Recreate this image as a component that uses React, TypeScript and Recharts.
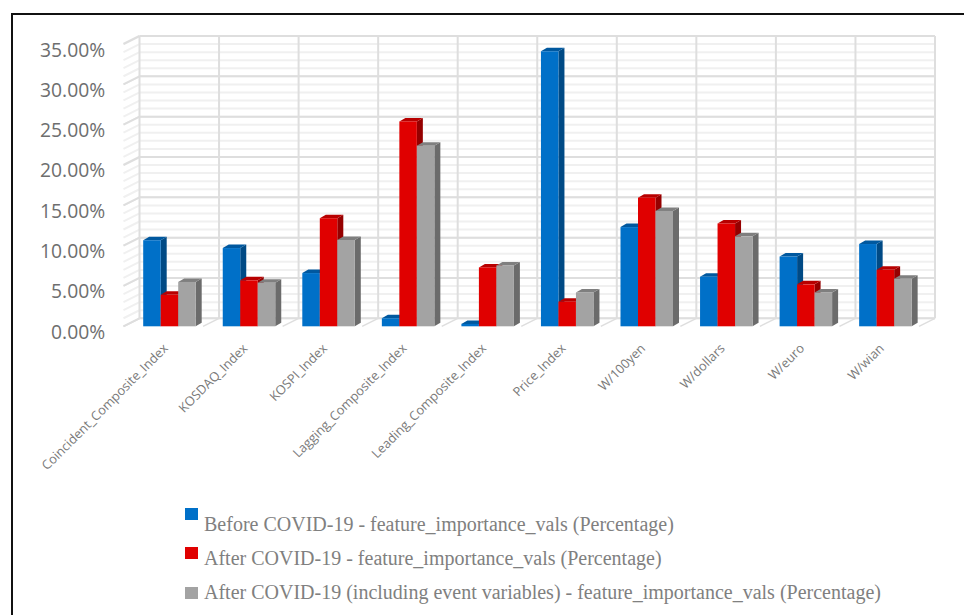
import { BarChart, Bar, XAxis, YAxis, Legend, usePlotArea } from 'recharts'

const categories = [
  'Coincident_Composite_Index',
  'KOSDAQ_Index',
  'KOSPI_Index',
  'Lagging_Composite_Index',
  'Leading_Composite_Index',
  'Price_Index',
  'W/100yen',
  'W/dollars',
  'W/euro',
  'W/wian',
]

const beforeCovid = [10.67, 9.7, 6.6, 1.0, 0.3, 34.1, 12.3, 6.15, 8.65, 10.2]
const afterCovid = [3.9, 5.7, 13.4, 25.4, 7.3, 3.05, 15.95, 12.75, 5.2, 7.0]
const afterCovidEvents = [5.5, 5.4, 10.7, 22.4, 7.55, 4.2, 14.3, 11.15, 4.2, 5.9]

const yTicks = [0, 5, 10, 15, 20, 25, 30, 35]
const minorTicks = Array.from({ length: 36 }, (_, i) => i)

const seriesNames = [
  'Before COVID-19 - feature_importance_vals (Percentage)',
  'After COVID-19 - feature_importance_vals (Percentage)',
  'After COVID-19 (including event variables) - feature_importance_vals (Percentage)',
]

const data = categories.map((name, i) => ({
  name,
  before: beforeCovid[i],
  after: afterCovid[i],
  events: afterCovidEvents[i],
}))

const BLUE = '#0070c8'
const RED = '#e00000'
const GRAY = '#a3a3a3'

// fake 3D shading: [top face, side face]
const shades: Record<string, [string, string]> = {
  [BLUE]: ['#00589f', '#004a85'],
  [RED]: ['#b80000', '#950000'],
  [GRAY]: ['#7f7f7f', '#6b6b6b'],
}

const DEPTH_X = 6
const DEPTH_Y = 3.5
const WALL_DX = 16
const WALL_DY = 8
const WALL_SHIFT = 10.3

function Bar3D({ x, y, width, height, fill }: any) {
  const [top, side] = shades[fill]
  const right = x + width
  const bottom = y + height
  return (
    <g>
      <polygon
        points={`${right},${y} ${right + DEPTH_X},${y - DEPTH_Y} ${right + DEPTH_X},${bottom - DEPTH_Y} ${right},${bottom}`}
        fill={side}
      />
      <polygon
        points={`${x},${y} ${x + DEPTH_X},${y - DEPTH_Y} ${right + DEPTH_X},${y - DEPTH_Y} ${right},${y}`}
        fill={top}
      />
      <rect x={x} y={y} width={width} height={height} fill={fill} />
    </g>
  )
}

// back wall, side wall and floor behind the bars
function Walls() {
  const plot = usePlotArea()
  if (!plot) return null
  const left = plot.x + WALL_SHIFT
  const right = left + plot.width
  const band = plot.width / categories.length
  const yOf = (v: number) => plot.y + plot.height * (1 - v / 35) - WALL_DY
  const line = '#dedede'
  return (
    <g>
      {minorTicks.map((t) => (
        <g key={t} stroke="#f0f0f0" strokeWidth={2}>
          <line x1={left} x2={right} y1={yOf(t)} y2={yOf(t)} />
          <line x1={left} x2={left - WALL_DX} y1={yOf(t)} y2={yOf(t) + WALL_DY} />
        </g>
      ))}
      {yTicks.map((t) => (
        <g key={t} stroke={line} strokeWidth={2}>
          <line x1={left} x2={right} y1={yOf(t)} y2={yOf(t)} />
          <line x1={left} x2={left - WALL_DX} y1={yOf(t)} y2={yOf(t) + WALL_DY} />
        </g>
      ))}
      {[...categories, 'end'].map((c, i) => (
        <g key={c} stroke={line}>
          <line x1={left + band * i} x2={left + band * i} y1={yOf(35)} y2={yOf(0)} strokeWidth={2} />
          <line
            x1={left + band * i}
            x2={left + band * i - WALL_DX}
            y1={yOf(0)}
            y2={yOf(0) + WALL_DY}
            strokeWidth={1.5}
          />
        </g>
      ))}
    </g>
  )
}

function YTick({ x, y, payload }: any) {
  return (
    <text x={x - 16} y={y} dy={12.5} textAnchor="end" fontFamily="Open Sans" fontSize={19.3} fill="#6e6e6e">
      {payload.value.toFixed(2)}%
    </text>
  )
}

function XTick({ x, y, payload }: any) {
  const px = x - 3
  const py = y - 2
  return (
    <text
      x={px}
      y={py}
      dy={4}
      textAnchor="end"
      transform={`rotate(-45 ${px} ${py})`}
      fontFamily="Open Sans"
      fontSize={12.8}
      fill="#7a7a7a"
    >
      {payload.value}
    </text>
  )
}

const legendRows = [
  { swatch: 508, text: 512 },
  { swatch: 547, text: 546 },
  { swatch: 587, text: 580 },
]

function LegendRows({ payload }: any) {
  return (
    <div style={{ position: 'relative' }}>
      {payload.map((entry: any, i: number) => (
        <div key={entry.value}>
          <div
            style={{
              position: 'absolute',
              left: 185,
              top: legendRows[i].swatch,
              width: 13,
              height: 12,
              background: entry.color,
            }}
          />
          <div
            style={{
              position: 'absolute',
              left: 204,
              top: legendRows[i].text,
              whiteSpace: 'nowrap',
              fontFamily: 'Liberation Serif',
              fontSize: 20,
              lineHeight: '24px',
              color: '#808080',
            }}
          >
            {entry.value}
          </div>
        </div>
      ))}
    </div>
  )
}

export default function App() {
  return (
    <div style={{ position: 'absolute', left: 0, top: 0, width: 964, height: 615, overflow: 'hidden', background: '#fff' }}>
      <div
        style={{
          position: 'absolute',
          left: 11,
          top: 13,
          width: 960,
          height: 610,
          borderLeft: '2px solid #111',
          borderTop: '2px solid #111',
        }}
      />
      <BarChart
        width={964}
        height={615}
        data={data}
        margin={{ top: 44, left: 24.2, right: 39.3, bottom: 228.7 }}
        barSize={17.5}
        barGap={0}
      >
        <Walls />
        <XAxis
          dataKey="name"
          interval={0}
          axisLine={false}
          tickLine={false}
          height={60}
          tick={<XTick />}
          tickMargin={16}
        />
        <YAxis
          width={105}
          domain={[0, 35]}
          ticks={yTicks}
          axisLine={false}
          tickLine={false}
          tick={<YTick />}
        />
        <Legend
          layout="horizontal"
          verticalAlign="middle"
          itemSorter={null}
          content={<LegendRows />}
          wrapperStyle={{ left: 0, top: 0, width: 964, height: 0 }}
        />
        <Bar dataKey="before" name={seriesNames[0]} fill={BLUE} shape={<Bar3D />} isAnimationActive={false} />
        <Bar dataKey="after" name={seriesNames[1]} fill={RED} shape={<Bar3D />} isAnimationActive={false} />
        <Bar dataKey="events" name={seriesNames[2]} fill={GRAY} shape={<Bar3D />} isAnimationActive={false} />
      </BarChart>
    </div>
  )
}
